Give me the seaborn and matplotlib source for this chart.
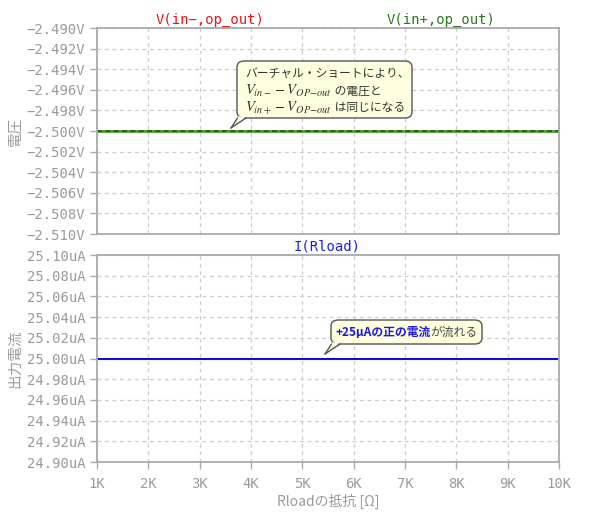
import numpy as np
import pandas as pd
import matplotlib
matplotlib.use('Agg')
import matplotlib.pyplot as plt
import seaborn as sns
from matplotlib.patches import FancyBboxPatch, Polygon
from matplotlib.ticker import FuncFormatter, MultipleLocator
from matplotlib.lines import Line2D

# data
r_load = [1000, 2000, 3000, 4000, 5000, 6000, 7000, 8000, 9000, 10000]
v_in_minus = [-2.5, -2.5, -2.5, -2.5, -2.5, -2.5, -2.5, -2.5, -2.5, -2.5]
v_in_plus = [-2.5, -2.5, -2.5, -2.5, -2.5, -2.5, -2.5, -2.5, -2.5, -2.5]
i_rload_ua = [25.0, 25.0, 25.0, 25.0, 25.0, 25.0, 25.0, 25.0, 25.0, 25.0]

x_ticks = [1000, 2000, 3000, 4000, 5000, 6000, 7000, 8000, 9000, 10000]
x_tick_labels = ['1K', '2K', '3K', '4K', '5K', '6K', '7K', '8K', '9K', '10K']

sns.set_style('white')
plt.rcParams['font.family'] = ['Noto Sans CJK JP', 'DejaVu Sans']
plt.rcParams['mathtext.fontset'] = 'stix'

MONO = 'DejaVu Sans Mono'
GRAY = '#9a9a9a'
W, H = 600, 518

df = pd.DataFrame({'r': r_load, 'vm': v_in_minus, 'vp': v_in_plus, 'i': i_rload_ua})

fig = plt.figure(figsize=(6, 5.18), dpi=100)
ax1 = fig.add_axes([97 / W, (H - 234) / H, 462 / W, 206 / H])
ax2 = fig.add_axes([97 / W, (H - 462) / H, 462 / W, 207 / H])

sns.lineplot(data=df, x='r', y='vm', ax=ax1, color='#4c9a2e', lw=2.0)
sns.lineplot(data=df, x='r', y='vp', ax=ax1, color='#1f5a0c', lw=1.2, linestyle=(0, (3, 2)))
sns.lineplot(data=df, x='r', y='i', ax=ax2, color='#1010d0', lw=1.5)

ax1.set_ylim(-2.510, -2.490)
ax1.yaxis.set_major_locator(MultipleLocator(0.002))
ax1.yaxis.set_major_formatter(FuncFormatter(lambda v, p: f'{v:.3f}V'.replace('-', '\u2212')))
ax2.set_ylim(24.90, 25.10)
ax2.yaxis.set_major_locator(MultipleLocator(0.02))
ax2.yaxis.set_major_formatter(FuncFormatter(lambda v, p: f'{v:.2f}uA'))

for ax in (ax1, ax2):
    ax.set_xlim(r_load[0], r_load[-1])
    ax.set_xticks(x_ticks)
    ax.grid(True, color='#cccccc', linestyle=(0, (3, 3)), lw=0.9)
    for s in ax.spines.values():
        s.set_color('#aaaaaa')
        s.set_linewidth(1.3)
    ax.tick_params(axis='y', direction='out', length=5, width=1, color='#aaaaaa',
                   labelcolor=GRAY, labelsize=10, left=True)
    for t in ax.get_yticklabels():
        t.set_fontfamily(MONO)
    ax.set_xlabel('')

ax1.tick_params(axis='x', bottom=False, labelbottom=False)
ax2.set_xticklabels(x_tick_labels)
ax2.tick_params(axis='x', direction='out', length=5, width=1, color='#aaaaaa',
                labelcolor=GRAY, labelsize=10, bottom=True, pad=6)
for t in ax2.get_xticklabels():
    t.set_fontfamily(MONO)

ax1.set_ylabel('電圧', color=GRAY, fontsize=10.5)
ax2.set_ylabel('出力電流', color=GRAY, fontsize=10.5)
ax1.yaxis.set_label_coords(-75 / 462, 0.5)
ax2.yaxis.set_label_coords(-75 / 462, 0.5)
ax2.set_xlabel('Rloadの抵抗 [Ω]', color=GRAY, fontsize=10, labelpad=2)

# trace titles
fig.text(210 / W, (H - 20) / H, 'V(in\u2212,op_out)', color='#e81818', family=MONO,
         fontsize=10, ha='center', va='center')
fig.text(441 / W, (H - 20) / H, 'V(in+,op_out)', color='#2a7a1a', family=MONO,
         fontsize=10, ha='center', va='center')
fig.text(327 / W, (H - 247) / H, 'I(Rload)', color='#2020e0', family=MONO,
         fontsize=10, ha='center', va='center')


def callout(x0, y0, x1, y1, wa, wb, tip):
    # pixel coords, y from top
    fx = lambda x: x / W
    fy = lambda y: (H - y) / H
    box = FancyBboxPatch((fx(x0), fy(y1)), fx(x1) - fx(x0), fy(y0) - fy(y1),
                         boxstyle='round,pad=0,rounding_size=0.012',
                         transform=fig.transFigure, fc='#ffffe0', ec='#555555', lw=1.0,
                         zorder=10)
    fig.add_artist(box)
    wedge = Polygon([(fx(wa), fy(y1) + 0.003), (fx(wb), fy(y1) + 0.003), (fx(tip[0]), fy(tip[1]))],
                    closed=True, transform=fig.transFigure, fc='#ffffe0', ec='none', zorder=11)
    fig.add_artist(wedge)
    for wx in (wa, wb):
        fig.add_artist(Line2D([fx(wx), fx(tip[0])], [fy(y1), fy(tip[1])],
                              transform=fig.transFigure, color='#555555', lw=1.0, zorder=12))


def text_run(x, y, parts):
    # parts: list of (text, kwargs) drawn one after another
    fig.canvas.draw()
    renderer = fig.canvas.get_renderer()
    px = x
    for s, kw in parts:
        t = fig.text(px / W, (H - y) / H, s, ha='left', va='center', zorder=13, **kw)
        px = t.get_window_extent(renderer).x1


callout(237, 61, 412, 118, 237.5, 246, (231, 128))
jp = dict(color='#333333', fontsize=8.5)
mt = dict(color='#333333', fontsize=10.5)
text_run(245, 73, [('バーチャル・ショートにより、', jp)])
text_run(245, 91, [(r'$V_{in-} - V_{OP\mathrm{-}out}$', mt), (' の電圧と', jp)])
text_run(245, 108, [(r'$V_{in+} - V_{OP\mathrm{-}out}$', mt), (' は同じになる', jp)])

callout(331, 320, 482, 344, 331.5, 340, (325, 354))
text_run(335, 332, [('+25μAの正の電流', dict(color='#1a1ae0', fontsize=8.5, fontweight='bold')),
                    ('が流れる', dict(color='#444444', fontsize=8.5))])

fig.savefig('out.png', dpi=100)
